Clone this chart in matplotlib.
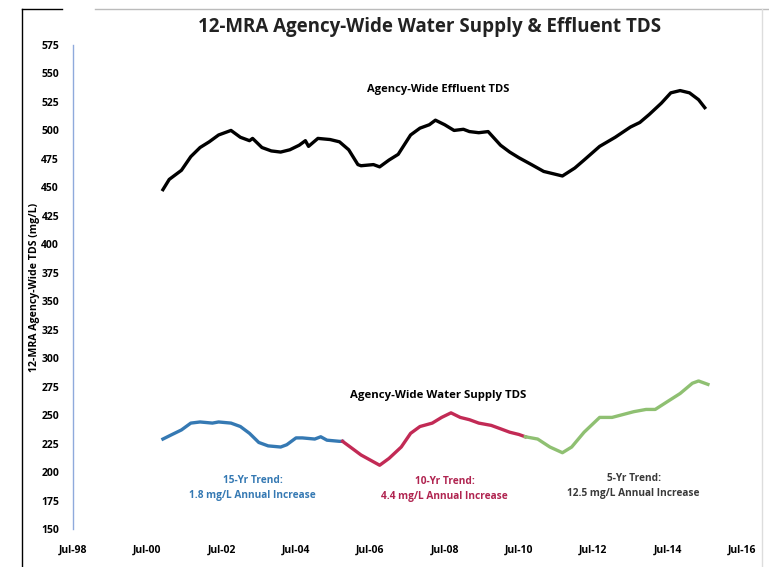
import pandas as pd
import matplotlib.pyplot as plt
from matplotlib.lines import Line2D

plt.rcParams['font.family'] = ['Open Sans', 'DejaVu Sans']
plt.rcParams['font.weight'] = 'bold'

# 12-month rolling average, effluent TDS (mg/L)
effluent_dates = ["2000-12", "2001-02", "2001-06", "2001-09", "2001-12", "2002-03",
                  "2002-06", "2002-10", "2003-01", "2003-04", "2003-05", "2003-08",
                  "2003-11", "2004-02", "2004-05", "2004-08", "2004-10", "2004-11",
                  "2005-02", "2005-06", "2005-09", "2005-12", "2006-03", "2006-04",
                  "2006-08", "2006-10", "2007-01", "2007-04", "2007-08", "2007-11",
                  "2008-02", "2008-04", "2008-07", "2008-10", "2009-01", "2009-03",
                  "2009-06", "2009-09", "2010-01", "2010-04", "2010-07", "2010-11",
                  "2011-03", "2011-09", "2012-01", "2012-04", "2012-09", "2013-02",
                  "2013-07", "2013-10", "2014-01", "2014-05", "2014-08", "2014-11",
                  "2015-02", "2015-05", "2015-07"]
effluent_tds = [448, 457, 465, 477, 485, 490,
                496, 500, 494, 491, 493, 485,
                482, 481, 483, 487, 491, 486,
                493, 492, 490, 483, 470, 469,
                470, 468, 474, 479, 496, 502,
                505, 509, 505, 500, 501, 499,
                498, 499, 487, 481, 476, 470,
                464, 460, 467, 474, 486, 494,
                503, 507, 514, 524, 533, 535,
                533, 527, 520]

# water supply TDS, split by trend period
supply15_dates = ["2000-12", "2001-03", "2001-06", "2001-09", "2001-12", "2002-04",
                  "2002-06", "2002-10", "2003-01", "2003-04", "2003-07", "2003-10",
                  "2004-02", "2004-04", "2004-07", "2004-09", "2005-01", "2005-03",
                  "2005-05", "2005-09", "2005-10"]
supply15_tds = [229, 233, 237, 243, 244, 243,
                244, 243, 240, 234, 226, 223,
                222, 224, 230, 230, 229, 231,
                228, 227, 227]

supply10_dates = ["2005-10", "2005-12", "2006-04", "2006-06", "2006-10", "2007-01",
                  "2007-05", "2007-08", "2007-11", "2008-03", "2008-06", "2008-09",
                  "2008-12", "2009-03", "2009-06", "2009-10", "2010-01", "2010-04",
                  "2010-07", "2010-09"]
supply10_tds = [227, 223, 215, 212, 206, 212,
                222, 234, 240, 243, 248, 252,
                248, 246, 243, 241, 238, 235,
                233, 231]

supply5_dates = ["2010-09", "2011-01", "2011-05", "2011-09", "2011-12", "2012-04",
                 "2012-09", "2013-01", "2013-08", "2013-12", "2014-03", "2014-07",
                 "2014-11", "2015-03", "2015-05", "2015-08"]
supply5_tds = [231, 229, 222, 217, 222, 235,
               248, 248, 253, 255, 255, 262,
               269, 278, 280, 277]

tick_years = list(range(1998, 2017, 2))
tick_labels = ["Jul-%02d" % (y % 100) for y in tick_years]

fig = plt.figure(figsize=(7.69, 5.67), dpi=100)
ax = fig.add_axes([0.0949, 0.067, 0.870, 0.8536])

ax.plot(pd.to_datetime(effluent_dates), effluent_tds, color="black", lw=2.4)
ax.plot(pd.to_datetime(supply15_dates), supply15_tds, color="#3579B3", lw=2.4)
ax.plot(pd.to_datetime(supply10_dates), supply10_tds, color="#C22A55", lw=2.4)
ax.plot(pd.to_datetime(supply5_dates), supply5_tds, color="#8FC072", lw=2.4)

ax.set_ylim(150, 575)
ax.set_yticks(range(150, 576, 25))
ax.set_xlim(pd.Timestamp("1998-07-01"), pd.Timestamp("2016-07-01"))
ax.set_xticks([pd.Timestamp("%d-07-01" % y) for y in tick_years])
ax.set_xticklabels(tick_labels)
ax.tick_params(axis="both", length=0, labelsize=7.5)
ax.tick_params(axis="y", pad=10)
ax.tick_params(axis="x", pad=11)

for side in ["top", "right", "bottom"]:
    ax.spines[side].set_visible(False)
ax.spines["left"].set_color("#8FAADC")
ax.spines["left"].set_linewidth(1.0)

ax.set_ylabel("12-MRA Agency-Wide TDS (mg/L)", fontsize=7.6, fontweight="bold")
ax.yaxis.set_label_coords(-0.050, 0.5)

fig.text(0.558, 0.952, "12-MRA Agency-Wide Water Supply & Effluent TDS",
         ha="center", va="center", fontsize=13.5, fontweight="bold", color="#222222")

ax.text(pd.Timestamp("2008-05-01"), 536, "Agency-Wide Effluent TDS",
        ha="center", va="center", fontsize=8, fontweight="bold")
ax.text(pd.Timestamp("2008-05-01"), 267, "Agency-Wide Water Supply TDS",
        ha="center", va="center", fontsize=8.2, fontweight="bold")

ax.text(pd.Timestamp("2003-05-01"), 186, "15-Yr Trend:\n1.8 mg/L Annual Increase",
        ha="center", va="center", fontsize=7.3, fontweight="bold", color="#3579B3",
        linespacing=1.5)
ax.text(pd.Timestamp("2008-07-01"), 185.5, "10-Yr Trend:\n4.4 mg/L Annual Increase",
        ha="center", va="center", fontsize=7.3, fontweight="bold", color="#B02450",
        linespacing=1.5)
ax.text(pd.Timestamp("2013-08-01"), 188, "5-Yr Trend:\n12.5 mg/L Annual Increase",
        ha="center", va="center", fontsize=7.3, fontweight="bold", color="#3A3A3A",
        linespacing=1.5)

# page border
fig.add_artist(Line2D([0.029, 0.029], [0.0, 0.985], color="black", lw=1.0))
fig.add_artist(Line2D([0.029, 0.081], [0.985, 0.985], color="black", lw=1.0))
fig.add_artist(Line2D([0.123, 1.0], [0.985, 0.985], color="#BBBBBB", lw=1.0))
fig.add_artist(Line2D([0.991, 0.991], [0.0, 0.985], color="#DDDDDD", lw=1.0))

fig.savefig("out.png", dpi=100)
